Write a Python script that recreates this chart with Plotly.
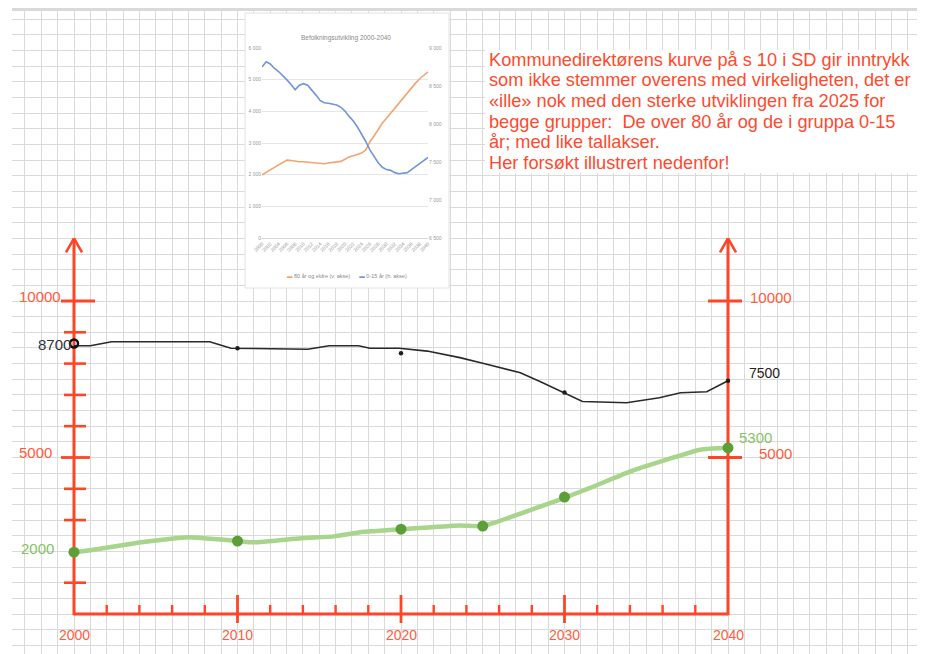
import plotly.graph_objects as go

# ---------------- main (hand drawn) chart data ----------------
green_years = [2000, 2001, 2004.1, 2005.7, 2007, 2010, 2011, 2013.9, 2015.9, 2017.5, 2020.1,
               2023.6, 2025, 2027.7, 2028.9, 2030.1, 2031.8, 2034, 2036.3, 2038.3, 2040]
green_values = [1975, 2040, 2290, 2390, 2450, 2330, 2290, 2420, 2480, 2610, 2710,
                2830, 2810, 3280, 3500, 3730, 4080, 4550, 4940, 5250, 5310]
green_dot_years = [2000, 2010, 2020, 2025, 2030, 2040]
green_dot_values = [1975, 2330, 2710, 2810, 3735, 5310]

black_years = [2000, 2001, 2002.3, 2008.3, 2009.6, 2014.3, 2015.6, 2017.4, 2018.1, 2019.9,
               2021.6, 2023.6, 2025, 2027.3, 2028.5, 2030, 2031.1, 2033.8, 2035.8, 2037.1,
               2038.7, 2040]
black_values = [8570, 8570, 8700, 8700, 8490, 8460, 8570, 8570, 8490, 8490,
                8400, 8190, 8010, 7710, 7430, 7070, 6790, 6750, 6910, 7070,
                7100, 7450]
black_dot_years = [2000, 2010, 2020, 2030, 2040]
black_dot_values = [8640, 8490, 8330, 7080, 7450]

x_label_years = [2000, 2010, 2020, 2030, 2040]
x_minor_ticks = [2002, 2004, 2006, 2008, 2012, 2014, 2016, 2018, 2022, 2024, 2026, 2028,
                 2032, 2034, 2036, 2038]
x_major_ticks = [2010, 2020, 2030]
y_minor_ticks = [1000, 3000, 4000, 6000, 7000, 8000, 9000]
y_major_ticks = [5000, 10000]
y_major_labels = ["5000", "10000"]

start_label = "8700"
end_label = "7500"
green_start_label = "2000"
green_end_label = "5300"

# ---------------- inset (Excel chart) data ----------------
inset_years = list(range(2000, 2041))
inset_80_plus = [1990, 2080, 2150, 2230, 2310, 2400, 2460, 2445, 2425, 2410,
                 2410, 2395, 2380, 2360, 2345, 2345, 2370, 2385, 2400, 2420,
                 2485, 2560, 2600, 2640, 2680, 2780, 3040, 3220, 3430, 3630,
                 3780, 3940, 4110, 4270, 4440, 4600, 4750, 4890, 5030, 5150, 5250]
inset_0_15 = [8750, 8820, 8790, 8730, 8690, 8640, 8580, 8520, 8450, 8510,
              8530, 8510, 8450, 8380, 8310, 8280, 8272, 8262, 8250, 8220,
              8170, 8100, 8040, 7960, 7870, 7770, 7660, 7570, 7490, 7430,
              7400, 7390, 7360, 7345, 7350, 7360, 7400, 7440, 7490, 7520, 7560]
inset_x_ticks = list(range(2000, 2041, 2))
inset_left_ticks = [0, 1000, 2000, 3000, 4000, 5000, 6000]
inset_right_ticks = [6500, 7000, 7500, 8000, 8500, 9000]
inset_title = "Befolkningsutvikling 2000-2040"
inset_names = ["80 år og eldre (v. akse)", "0-15 år (h. akse)"]

note_lines = [
    "Kommunedirektørens kurve på s 10 i SD gir inntrykk",
    "som ikke stemmer overens med virkeligheten, det er",
    "«ille» nok med den sterke utviklingen fra 2025 for",
    "begge grupper:  De over 80 år og de i gruppa 0-15",
    "år; med like tallakser.",
    "Her forsøkt illustrert nedenfor!",
]

# ---------------- geometry / styles ----------------
# The page body has an 8px margin, so the figure starts at window (8, 8).
PAGE_OFF = 8
WIN_L, WIN_R, WIN_T, WIN_B = 12, 925, 8, 654        # plot area in window pixels
W, H = 925 - PAGE_OFF, 654 - PAGE_OFF
ML, MT = WIN_L - PAGE_OFF, WIN_T - PAGE_OFF
X0_PX, X_PER_PX = 74, 40 / 654.0     # year 2000 at window px 74
Y0_PX, Y_PER_PX = 614, 10000 / 313.0  # value 0 at window px 614


def px_x(px):
    return (px - WIN_L) / (WIN_R - WIN_L)


def px_y(py):
    return 1 - (py - WIN_T) / (WIN_B - WIN_T)


def dx(px):
    return 2000 + (px - X0_PX) * X_PER_PX


def dy(py):
    return (Y0_PX - py) * Y_PER_PX


RED = "#ff4526"
RED_TXT = "#ff5c40"
GREEN_TXT = "#86c267"
FONT = "Arial, Liberation Sans, sans-serif"

x_range = [dx(WIN_L), dx(WIN_R)]
y_range = [dy(WIN_B), dy(WIN_T)]

fig = go.Figure()

fig.add_trace(go.Scatter(x=green_years, y=green_values, mode="lines",
                         line=dict(color="#a6d58b", width=4.5, shape="spline", smoothing=0.5),
                         hoverinfo="skip", showlegend=False))
fig.add_trace(go.Scatter(x=green_dot_years, y=green_dot_values, mode="markers",
                         marker=dict(color="#5d9f37", size=11), showlegend=False))
fig.add_trace(go.Scatter(x=black_years, y=black_values, mode="lines",
                         line=dict(color="#2a2a2a", width=1.6), showlegend=False))
fig.add_trace(go.Scatter(x=black_dot_years[1:], y=black_dot_values[1:], mode="markers",
                         marker=dict(color="#1e1e1e", size=4.5), showlegend=False))
fig.add_trace(go.Scatter(x=black_dot_years[:1], y=black_dot_values[:1], mode="markers",
                         marker=dict(symbol="circle-open", color="#111111", size=8,
                                     line=dict(width=2.5, color="#111111")),
                         showlegend=False))

fig.add_trace(go.Scatter(x=inset_years, y=inset_80_plus, xaxis="x2", yaxis="y2", mode="lines",
                         name=inset_names[0], line=dict(color="#f3a36c", width=1.6),
                         showlegend=False))
fig.add_trace(go.Scatter(x=inset_years, y=inset_0_15, xaxis="x2", yaxis="y3", mode="lines",
                         name=inset_names[1], line=dict(color="#7095da", width=1.6),
                         showlegend=False))

shapes = []

# inset white card (above grid, below traces)
shapes.append(dict(type="rect", xref="x", yref="y", layer="between",
                   x0=dx(245), x1=dx(449), y0=dy(288), y1=dy(13),
                   fillcolor="white", line=dict(color="#e2e2e2", width=1)))


def seg(x0, y0, x1, y1, w=3.0):
    shapes.append(dict(type="line", xref="x", yref="y", x0=x0, y0=y0, x1=x1, y1=y1,
                       line=dict(color=RED, width=w), layer="between"))


x_start, x_end = x_label_years[0], x_label_years[-1]
y_top = 12000
# axes lines
seg(x_start, -40, x_start, y_top)
seg(x_end, -40, x_end, y_top)
seg(x_start, 0, x_end, 0)
# arrow heads
for xa in (x_start, x_end):
    seg(xa - 8 * X_PER_PX, y_top - 14 * Y_PER_PX, xa, y_top, 2.6)
    seg(xa + 8 * X_PER_PX, y_top - 14 * Y_PER_PX, xa, y_top, 2.6)
# left axis ticks
for v in y_minor_ticks:
    seg(x_start - 10 * X_PER_PX, v, x_start + 12 * X_PER_PX, v, 2.6)
for v in y_major_ticks:
    seg(x_start - 13 * X_PER_PX, v, x_start + (21 if v == 10000 else 16) * X_PER_PX, v, 2.8)
# right axis ticks
for v in y_major_ticks:
    seg(x_end - 20 * X_PER_PX, v, x_end + 14 * X_PER_PX, v, 2.8)
# x ticks
for t in x_minor_ticks:
    seg(t, 0, t, 9 * Y_PER_PX, 2.4)
for t in x_major_ticks:
    seg(t, -9 * Y_PER_PX, t, 19 * Y_PER_PX, 2.8)

# text card
shapes.append(dict(type="rect", xref="paper", yref="paper", layer="above",
                   x0=px_x(485), x1=1.0, y0=px_y(173), y1=px_y(50),
                   fillcolor="white", line=dict(width=0)))
# top border band of the paper
shapes.append(dict(type="line", xref="paper", yref="paper", layer="above",
                   x0=0, x1=1.0, y0=px_y(9.5), y1=px_y(9.5),
                   line=dict(color="#d9d9d9", width=3)))

ann = []
# bottom year labels
for yr in x_label_years:
    ann.append(dict(x=yr, y=0, xref="x", yref="y", text=str(yr), showarrow=False,
                    xanchor="center", yanchor="top", yshift=-11,
                    font=dict(family=FONT, size=14, color=RED_TXT)))
# left and right major labels
for v, lab in zip(y_major_ticks, y_major_labels):
    ann.append(dict(x=x_start, y=v, xref="x", yref="y", text=lab, showarrow=False,
                    xanchor="left", yanchor="middle", xshift=-57, yshift=5,
                    font=dict(family=FONT, size=15, color=RED_TXT)))
    ann.append(dict(x=x_end, y=v, xref="x", yref="y", text=lab, showarrow=False,
                    xanchor="right", yanchor="middle", xshift=66, yshift=4,
                    font=dict(family=FONT, size=15, color=RED_TXT)))
ann.append(dict(x=x_start, y=black_dot_values[0], xref="x", yref="y", text=start_label,
                showarrow=False, xanchor="right", yanchor="middle", xshift=-1, yshift=-1,
                font=dict(family=FONT, size=15, color="#333333")))
ann.append(dict(x=x_end, y=black_dot_values[-1], xref="x", yref="y", text=end_label,
                showarrow=False, xanchor="left", yanchor="middle", xshift=19, yshift=8,
                font=dict(family=FONT, size=14, color="#222222")))
ann.append(dict(x=x_start, y=green_dot_values[0], xref="x", yref="y", text=green_start_label,
                showarrow=False, xanchor="left", yanchor="middle", xshift=-55, yshift=4,
                font=dict(family=FONT, size=15, color=GREEN_TXT)))
ann.append(dict(x=x_end, y=green_dot_values[-1], xref="x", yref="y", text=green_end_label,
                showarrow=False, xanchor="left", yanchor="middle", xshift=9, yshift=10,
                font=dict(family=FONT, size=15, color=GREEN_TXT)))

# note text
for i, line in enumerate(note_lines):
    ann.append(dict(x=px_x(487), y=px_y(59.5 + 20.7 * i), xref="paper", yref="paper",
                    text=line, showarrow=False, xanchor="left", yanchor="middle",
                    font=dict(family=FONT, size=18.2, color="#ff4a2e")))

# inset title + legend
ann.append(dict(x=px_x(346), y=px_y(32), xref="paper", yref="paper", text=inset_title,
                showarrow=False, font=dict(family=FONT, size=6.5, color="#8a8a8a")))
ann.append(dict(x=px_x(347), y=px_y(276), xref="paper", yref="paper",
                text=("<span style='color:#f3a36c'>▬</span> " + inset_names[0] +
                      "      <span style='color:#7095da'>▬</span> " + inset_names[1]),
                showarrow=False, font=dict(family=FONT, size=5.5, color="#8a8a8a")))

fig.update_layout(
    width=W, height=H,
    margin=dict(l=ML, r=0, t=MT, b=0, autoexpand=False),
    paper_bgcolor="white", plot_bgcolor="rgba(0,0,0,0)",
    showlegend=False,
    xaxis=dict(range=x_range, dtick=1, tick0=2000, showgrid=True, gridcolor="#dadada",
               gridwidth=1.2, showticklabels=False, zeroline=False, showline=False,
               ticks="", fixedrange=True, automargin=False),
    yaxis=dict(range=y_range, dtick=500, tick0=0, showgrid=True, gridcolor="#dadada",
               gridwidth=1.2, showticklabels=False, zeroline=False, showline=False,
               ticks="", fixedrange=True, automargin=False),
    xaxis2=dict(domain=[px_x(262), px_x(428)], anchor="y2", range=[2000, 2040],
                tickvals=inset_x_ticks, ticktext=[str(v) for v in inset_x_ticks],
                tickangle=-45, tickfont=dict(family=FONT, size=5, color="#9a9a9a"),
                showgrid=False, zeroline=False, showline=True, linecolor="#d9d9d9",
                linewidth=1, ticks="", automargin=False),
    yaxis2=dict(domain=[px_y(238), px_y(48)], anchor="x2", range=[0, 6000],
                tickvals=inset_left_ticks,
                ticktext=[f"{v:,}".replace(",", " ") for v in inset_left_ticks],
                tickfont=dict(family=FONT, size=5, color="#9a9a9a"),
                showgrid=True, gridcolor="#e6e6e6", gridwidth=1, zeroline=False,
                showline=False, ticks="", automargin=False),
    yaxis3=dict(overlaying="y2", anchor="x2", side="right", range=[6500, 9000],
                tickvals=inset_right_ticks,
                ticktext=[f"{v:,}".replace(",", " ") for v in inset_right_ticks],
                tickfont=dict(family=FONT, size=5, color="#9a9a9a"),
                showgrid=False, zeroline=False, showline=False, ticks="", automargin=False),
    shapes=shapes,
    annotations=ann,
)

fig.write_html("out.html")
